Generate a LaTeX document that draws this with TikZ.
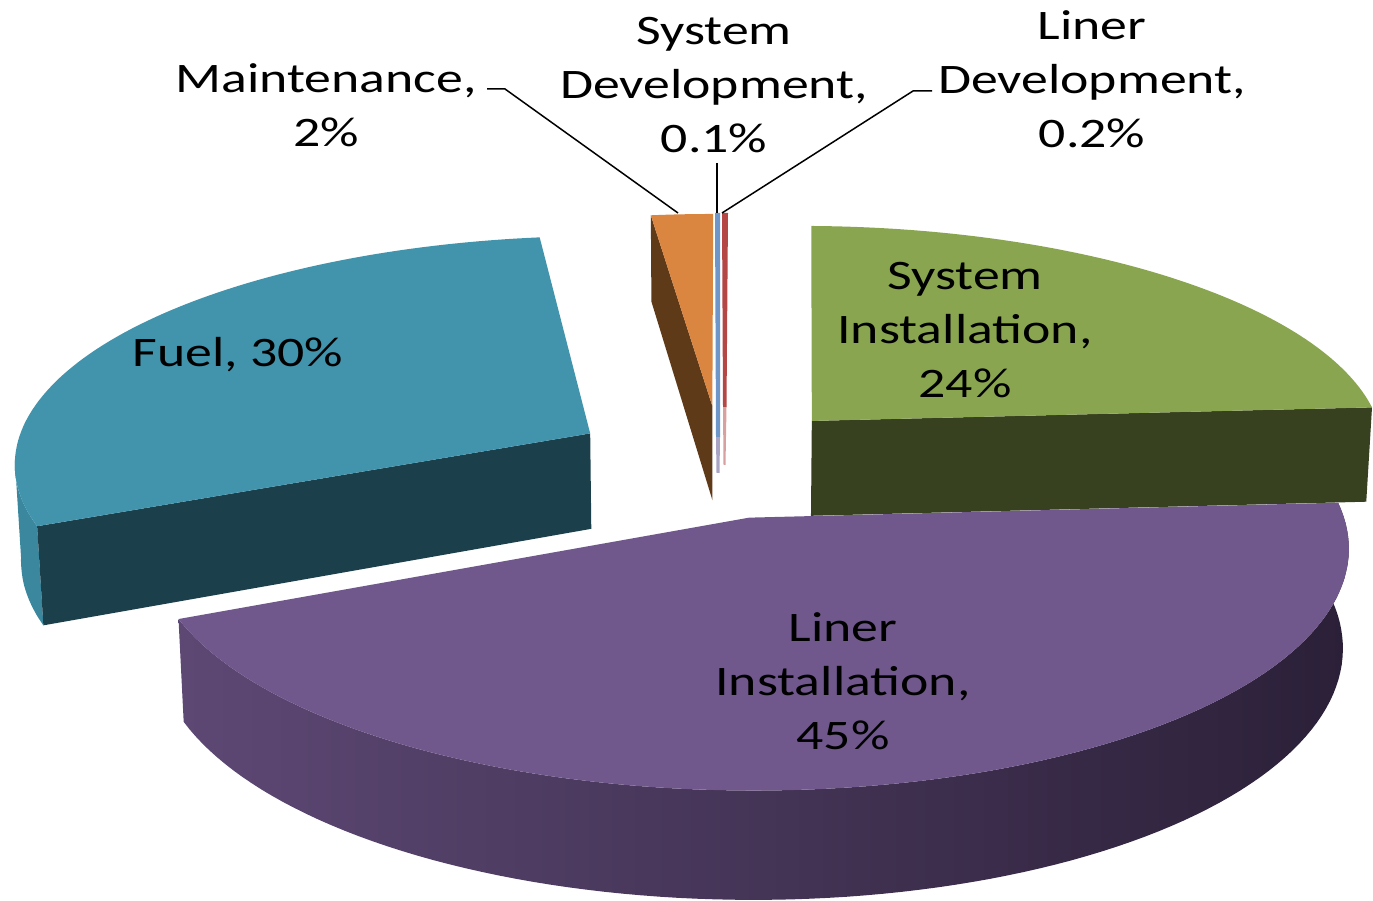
\documentclass[tikz,border=0pt]{standalone}
\usepackage{fontspec}
\setmainfont{Carlito}[FakeStretch=1.28]

\definecolor{gtop}{HTML}{8AA54F}
\definecolor{gcut}{HTML}{37401F}
\definecolor{ftop}{HTML}{4194AC}
\definecolor{fcut}{HTML}{1C404B}
\definecolor{fside}{HTML}{3A879E}
\definecolor{ptop}{HTML}{70588C}
\definecolor{pside1}{HTML}{5D4874}
\definecolor{pside2}{HTML}{3F3152}
\definecolor{pside3}{HTML}{2B2038}
\definecolor{otop}{HTML}{DA8540}
\definecolor{ocut}{HTML}{5F3A19}
\definecolor{btop}{HTML}{6E96C8}
\definecolor{bcut}{HTML}{A9A3C4}
\definecolor{rtop}{HTML}{B44646}
\definecolor{rcut}{HTML}{D9A0A0}

% explode distance and thickness of the pie (unit radius)
\def\pieE{0.25}
\def\pieH{0.182}

% offsets of one slice from its start and end angle (clockwise from 12 o'clock)
\newcommand{\slicesetup}[2]{%
  \pgfmathsetmacro\sa{#1}%
  \pgfmathsetmacro\sb{#2}%
  \pgfmathsetmacro\ox{\pieE*sin((#1+#2)/2)}%
  \pgfmathsetmacro\oy{\pieE*cos((#1+#2)/2)}}

\begin{document}
\begin{tikzpicture}[x=1pt,y=1pt,
  declare function={
    pden(\a,\b,\c)=1+0.117*\b-0.0496*\c;
    pu(\a,\b,\c)=714+578*\a/pden(\a,\b,\c);
    pv(\a,\b,\c)=439+(226.6*\b+535.1*\c)/pden(\a,\b,\c);
    rx(\t,\z)=pu(\ox+sin(\t),\oy+cos(\t),\z);
    ry(\t,\z)=pv(\ox+sin(\t),\oy+cos(\t),\z);
    hx(\z)=pu(\ox,\oy,\z);
    hy(\z)=pv(\ox,\oy,\z);
  },
  lbl/.style={font=\fontsize{42}{54}\selectfont, align=center, inner sep=0pt, text=black},
  leader/.style={draw=black, line width=1.5pt}]

\useasboundingbox (0,0) rectangle (1373,900);

% ---- Maintenance, 2% ----
\slicesetup{352.9}{360}
\begin{scope}[xshift=7pt]
  \fill[ocut] ({hx(0)},{hy(0)}) -- ({rx(\sa,0)},{ry(\sa,0)})
     -- ({rx(\sa,-\pieH)},{ry(\sa,-\pieH)}) -- ({hx(-\pieH)},{hy(-\pieH)}) -- cycle;
  \fill[otop] ({hx(0)},{hy(0)}) -- plot[domain=\sa:\sb,samples=20,variable=\t]
     ({rx(\t,0)},{ry(\t,0)}) -- cycle;
\end{scope}

% ---- System Development, 0.1% ----
\fill[bcut] (716,463) -- (720,463) -- (719.5,427) -- (716.5,427) -- cycle;
\fill[btop] (715,687) -- (720,687) -- (720,463) -- (716,463) -- cycle;

% ---- Liner Development, 0.2% ----
\fill[rcut] (723,493) -- (726.5,493) -- (725.5,435) -- (723.5,435) -- cycle;
\fill[rtop] (722,687) -- (728,687) -- (726.5,493) -- (723,493) -- cycle;

% ---- System Installation, 24% ----
\slicesetup{1.07}{86.4}
\fill[gcut] ({hx(0)},{hy(0)}) -- ({rx(\sb,0)},{ry(\sb,0)})
   -- ({rx(\sb,-\pieH)},{ry(\sb,-\pieH)}) -- ({hx(-\pieH)},{hy(-\pieH)}) -- cycle;
\fill[gtop] ({hx(0)},{hy(0)}) -- plot[domain=\sa:\sb,samples=80,variable=\t]
   ({rx(\t,0)},{ry(\t,0)}) -- cycle;

% ---- Fuel, 30% ----
\slicesetup{246.3}{352.9}
\fill[fside] plot[domain=\sa:263,samples=20,variable=\t] ({rx(\t,0)},{ry(\t,0)})
   -- plot[domain=\sa:263,samples=20,variable=\t] ({rx(\sa+263-\t,-\pieH)},{ry(\sa+263-\t,-\pieH)}) -- cycle;
\fill[fcut] ({hx(0)},{hy(0)}) -- ({rx(\sa,0)},{ry(\sa,0)})
   -- ({rx(\sa,-\pieH)},{ry(\sa,-\pieH)}) -- ({hx(-\pieH)},{hy(-\pieH)}) -- cycle;
\fill[ftop] ({hx(0)},{hy(0)}) -- plot[domain=\sa:\sb,samples=80,variable=\t]
   ({rx(\t,0)},{ry(\t,0)}) -- cycle;

% ---- Liner Installation, 45% ----
\slicesetup{86.4}{246.3}
\shade[left color=pside1, middle color=pside2, right color=pside3]
   plot[domain=\sa:\sb,samples=100,variable=\t] ({rx(\t,0)},{ry(\t,0)})
   -- plot[domain=\sa:\sb,samples=100,variable=\t] ({rx(\sa+\sb-\t,-\pieH)},{ry(\sa+\sb-\t,-\pieH)}) -- cycle;
\fill[ptop] ({hx(0)},{hy(0)}) -- plot[domain=\sa:\sb,samples=100,variable=\t]
   ({rx(\t,0)},{ry(\t,0)}) -- cycle;

% ---- labels ----
\node[lbl] (maint) at (326,795) {Maintenance,\\2\%};
\node[lbl] (sysdev) at (714,815) {System\\Development,\\0.1\%};
\node[lbl] (lindev) at (1092,821) {Liner\\Development,\\0.2\%};
\node[lbl] (fuel) at (238,545) {Fuel, 30\%};
\node[lbl] (sysinst) at (965,570) {System\\Installation,\\24\%};
\node[lbl] (lininst) at (843,219) {Liner\\Installation,\\45\%};

% ---- leader lines ----
\coordinate (mA) at (487,811);
\coordinate (mB) at (505,811);
\coordinate (mC) at (678,687);
\draw[leader] (mA) -- (mB) -- (mC);
\coordinate (sA) at (717,737);
\coordinate (sB) at (717,687);
\draw[leader] (sA) -- (sB);
\coordinate (lA) at (722,687);
\coordinate (lB) at (913,809);
\coordinate (lC) at (932,809);
\draw[leader] (lA) -- (lB) -- (lC);
\end{tikzpicture}
\end{document}
